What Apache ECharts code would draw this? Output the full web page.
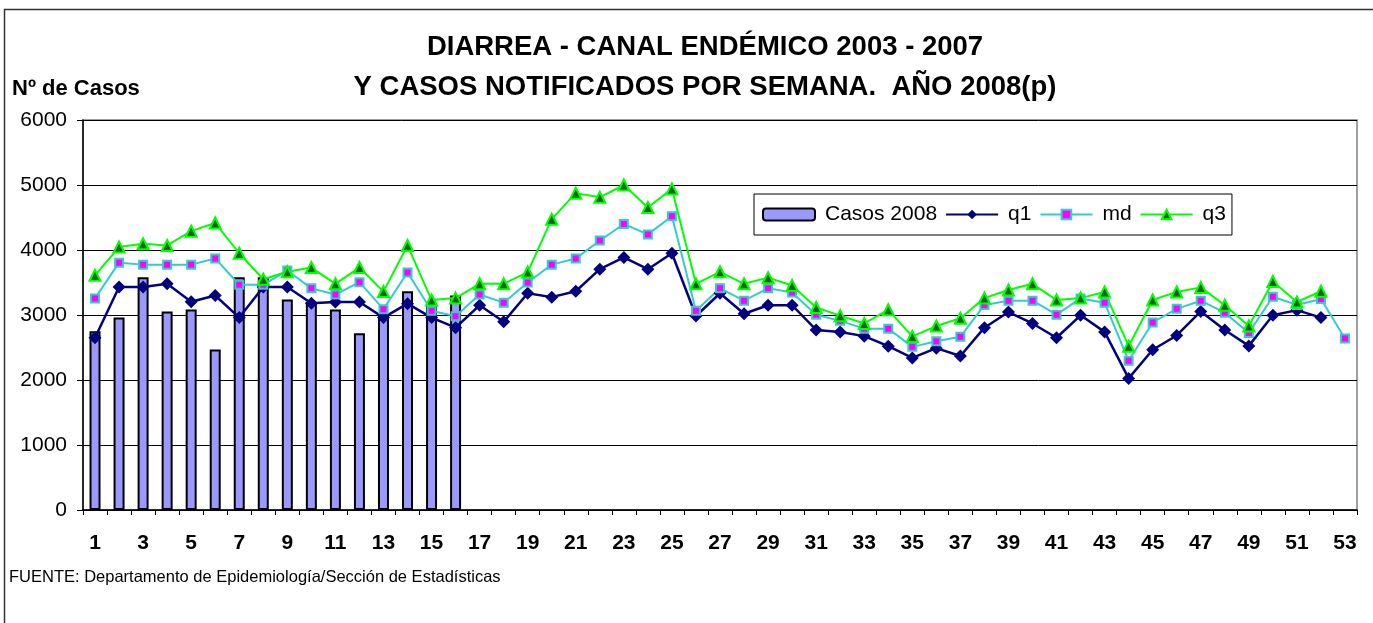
<!DOCTYPE html>
<html>
<head>
<meta charset="utf-8">
<script src="https://cdn.jsdelivr.net/npm/echarts@6/dist/echarts.min.js"></script>
<style>html,body{margin:0;padding:0;background:#fff}#c{width:1373px;height:623px}</style>
</head>
<body>
<div id="c"></div>
<script>
const weeks = Array.from({length: 53}, (_, i) => String(i + 1));
const casos2008 = [2750, 2960, 3580, 3055, 3085, 2470, 3580, 3580, 3240, 3200, 3085, 2720, 3000, 3365, 3150, 3300];
const q1 = [2650, 3430, 3430, 3480, 3205, 3300, 2960, 3430, 3430, 3180, 3200, 3200, 2960, 3175, 2960, 2805,
  3150, 2895, 3335, 3275, 3365, 3705, 3885, 3705, 3950, 2985, 3335, 3020, 3150, 3150,
  2770, 2740, 2675, 2520, 2340, 2490, 2370, 2805, 3045, 2870, 2650, 2995, 2740, 2025,
  2465, 2685, 3055, 2770, 2525, 2995, 3075, 2960, null];
const md = [3255, 3805, 3775, 3775, 3775, 3870, 3465, 3465, 3685, 3410, 3315, 3505, 3090, 3655, 3065, 2980,
  3315, 3190, 3500, 3775, 3870, 4145, 4400, 4240, 4520, 3065, 3410, 3220, 3410, 3345,
  3005, 2910, 2790, 2790, 2510, 2595, 2665, 3155, 3220, 3220, 3005, 3255, 3190, 2295,
  2885, 3095, 3220, 3035, 2725, 3280, 3155, 3245, 2640];
const q3 = [3610, 4045, 4095, 4070, 4290, 4415, 3950, 3550, 3665, 3730, 3480, 3730, 3360, 4070, 3230, 3260,
  3480, 3480, 3660, 4475, 4875, 4810, 5000, 4655, 4940, 3480, 3665, 3480, 3575, 3455,
  3115, 2990, 2870, 3080, 2670, 2830, 2950, 3260, 3385, 3480, 3230, 3260, 3355, 2520,
  3230, 3355, 3425, 3150, 2830, 3515, 3200, 3365, null];
const yTicks = [0, 1000, 2000, 3000, 4000, 5000, 6000];

const FONT = "'Liberation Sans', Arial, sans-serif";
const chart = echarts.init(document.getElementById('c'), null, {renderer: 'canvas'});
chart.setOption({
  animation: false,
  backgroundColor: '#fff',
  textStyle: {fontFamily: FONT},
  title: {
    text: 'DIARREA - CANAL ENDÉMICO 2003 - 2007\nY CASOS NOTIFICADOS POR SEMANA.  AÑO 2008(p)',
    left: 700, top: 22, textAlign: 'center',
    textStyle: {fontFamily: FONT, fontSize: 27.5, fontWeight: 'bold', color: '#000', lineHeight: 40}
  },
  legend: {
    left: 754, top: 194,
    padding: [10, 6, 10, 8],
    itemGap: 8,
    itemWidth: 52, itemHeight: 12,
    backgroundColor: '#fff', borderColor: '#000', borderWidth: 1,
    textStyle: {fontFamily: FONT, fontSize: 21, color: '#000', padding: [0, 0, 0, 5]},
    data: ['Casos 2008', 'q1', 'md', 'q3']
  },
  grid: {left: 83, right: 16, top: 120, bottom: 113, show: true, borderColor: '#808080', borderWidth: 1.5, backgroundColor: 'transparent'},
  xAxis: {
    type: 'category', data: weeks, boundaryGap: true,
    axisLine: {lineStyle: {color: '#000', width: 1.5}},
    axisTick: {show: true, interval: 0, length: 5, lineStyle: {color: '#000', width: 1}},
    axisLabel: {interval: 1, fontFamily: FONT, fontSize: 21, fontWeight: 'bold', color: '#000', margin: 23}
  },
  yAxis: {
    type: 'value', min: yTicks[0], max: yTicks[yTicks.length - 1], interval: 1000,
    axisLine: {show: true, lineStyle: {color: '#000', width: 1.5}},
    axisTick: {show: true, length: 6, lineStyle: {color: '#000'}},
    axisLabel: {fontFamily: FONT, fontSize: 21, color: '#000', margin: 16, formatter: v => String(v)},
    splitLine: {show: true, lineStyle: {color: '#000', width: 1}}
  },
  graphic: [
    {type: 'rect', shape: {x: 4.5, y: 9.5, width: 1400, height: 700}, style: {fill: null, stroke: '#333', lineWidth: 1.5}, silent: true, z: 100},
    {type: 'text', left: 12, top: 78, style: {text: 'Nº de Casos', font: "bold 22px 'Liberation Sans', Arial, sans-serif", fill: '#000'}},
    {type: 'text', left: 9, top: 569, style: {text: 'FUENTE: Departamento de Epidemiología/Sección de Estadísticas', font: "16.5px 'Liberation Sans', Arial, sans-serif", fill: '#000'}}
  ],
  series: [
    {name: 'Casos 2008', type: 'bar', data: casos2008, barWidth: 11,
      itemStyle: {color: '#9999FF', borderColor: '#000', borderWidth: 2}},
    {name: 'q1', type: 'line', data: q1, symbol: 'diamond', symbolSize: 13, showAllSymbol: true,
      lineStyle: {color: '#000080', width: 2.5}, itemStyle: {color: '#000080'}},
    {name: 'md', type: 'line', data: md, symbol: 'rect', symbolSize: 8, showAllSymbol: true,
      lineStyle: {color: '#33CCCC', width: 2}, itemStyle: {color: '#FF00FF', borderColor: '#33CCCC', borderWidth: 2}},
    {name: 'q3', type: 'line', data: q3, symbol: 'triangle', symbolSize: 11, showAllSymbol: true,
      lineStyle: {color: '#00FF00', width: 2}, itemStyle: {color: '#006600', borderColor: '#00FF00', borderWidth: 2}}
  ]
});
</script>
</body>
</html>
